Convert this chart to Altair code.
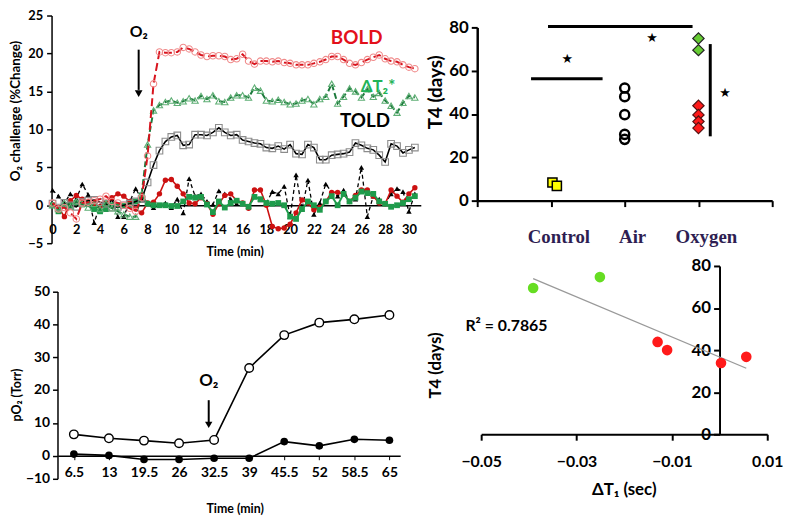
import altair as alt
import pandas as pd

W, H = 792, 510
SANS = "Lato"
SERIF = "Liberation Serif"

# ---------------- Panel A: O2 challenge time courses ----------------
time_a = [0, 0.5, 1, 1.5, 2, 2.5, 3, 3.5, 4, 4.5, 5, 5.5, 6, 6.5, 7, 7.5, 8, 8.5, 9, 9.5,
          10, 10.5, 11, 11.5, 12, 12.5, 13, 13.5, 14, 14.5, 15, 15.5, 16, 16.5, 17, 17.5,
          18, 18.5, 19, 19.5, 20, 20.5, 21, 21.5, 22, 22.5, 23, 23.5, 24, 24.5, 25, 25.5,
          26, 26.5, 27, 27.5, 28, 28.5, 29, 29.5, 30, 30.5]
bold_a = [0.3, -0.5, -0.3, -1.0, -1.8, 0.3, 0.4, 0.6, 0.8, 1.2,
          0.5, 0.3, 0.0, -0.4, -0.8, 1.0, 6.5, 16.0, 20.2, 20.1,
          20.1, 20.2, 20.8, 20.6, 20.2, 19.8, 19.6, 19.7, 19.7, 19.6,
          19.2, 19.3, 19.9, 19.0, 18.6, 19.0, 19.0, 18.9, 19.0, 18.8,
          18.7, 18.5, 18.5, 18.5, 18.7, 18.9, 19.2, 19.6, 19.6, 19.2,
          18.7, 18.5, 18.8, 19.2, 19.5, 19.8, 19.3, 19.0, 18.9, 18.5,
          18.2, 18.0]
dt2_a = [0.0, -0.5, 0.3, -0.2, 0.5, 0.2, -0.3, 0.2, -0.5, 0.3,
         -0.4, -0.8, -1.2, -1.5, -1.5, 1.5, 8.0, 12.5, 13.2, 13.6,
         13.8, 13.5, 13.7, 14.1, 13.8, 14.4, 14.0, 14.5, 13.7, 13.6,
         14.2, 14.5, 14.5, 14.2, 15.5, 15.1, 13.8, 13.7, 13.9, 13.6,
         13.3, 13.4, 13.8, 14.0, 13.3, 14.0, 14.3, 16.0, 13.4, 14.3,
         15.4, 15.0, 14.2, 15.3, 14.3, 14.8, 13.8, 13.1, 12.2, 13.5,
         14.4, 14.2]
told_a = [0.2, -0.3, 0.3, 0.0, -0.2, 0.4, 0.6, 0.7, 0.4, 0.2,
          -0.3, -0.2, 0.0, 0.2, 0.5, 0.8, 3.0, 5.3, 7.2, 8.4,
          9.0, 9.2, 7.9, 8.0, 9.3, 9.3, 9.2, 9.6, 10.2, 9.6,
          9.2, 9.3, 8.6, 8.4, 8.2, 8.1, 7.6, 7.5, 7.8, 7.4,
          8.0, 6.8, 6.7, 8.0, 7.6, 6.0, 6.0, 6.6, 6.7, 6.8,
          7.0, 8.2, 7.9, 7.5, 7.3, 6.6, 5.7, 8.1, 7.8, 6.9,
          7.3, 7.6]
ctrl_red_a = [0, -0.3, -1.5, 0.6, 1.3, 0.8, 0.5, 0.2, -0.2, 0.3,
              1.0, 1.5, 1.2, 0.5, -0.5, -1.0, 0.3, 0.4, 1.5, 3.3,
              3.4, 2.5, 1.5, 0.3, 0.2, 1.0, 0.2, -1.2, 0.2, 1.3,
              1.5, 0.6, 0.3, -0.4, 2.0, 2.0, 0.0, -2.8, -3.1, -3.0,
              -2.5, -1.0, 0.7, 0.3, -0.6, -0.3, 0.5, 1.7, 1.7, 1.5,
              0.5, 1.3, 2.0, 2.0, 1.2, 0.3, 0.2, 2.0, 1.2, 0.4,
              1.5, 2.3]
ctrl_green_a = [0, -0.8, 0, 0, 0.3, 0.1, 0.3, -0.5, -0.8, -0.5,
                0, 0, -0.1, 0, 0.5, 1.3, 0.2, 0, 0, 0,
                -0.1, -0.1, 0.5, 1.1, 1.0, 1.1, 0.1, -0.9, 0.5, -0.3,
                0.3, 0.6, 0.2, -0.2, 1.1, 0.8, 0.3, 0.2, 0.3, 0,
                -1.5, -1.8, -0.5, 0.5, 0, -0.6, 0.5, 1.2, 0, 1.5,
                0.5, 1.0, 1.8, 1.6, 1.5, 0.5, 0.2, -0.2, 0, 0.3,
                0.8, 1.2]
ctrl_black_a = [2.0, 1.2, 0.3, 1.5, 0.8, 2.8, 1.4, -2.3, 0, -0.5,
                0.8, -1.5, -1.5, 0.5, 2.2, 0.8, 0.2, -0.3, 0, 0.3,
                -0.3, 0.8, -1.0, 3.5, 1.2, 1.5, 0.5, 0.1, 1.9, 1.5,
                0.8, 0.2, 0.3, -0.2, 1.2, 0.7, 0.3, 1.8, 1.5, 2.5,
                -1.5, 4.0, -0.5, 3.3, -1.2, 0.3, 2.8, 1.7, 1.2, 2.0,
                0.5, 0.8, 5.0, -1.5, 1.2, 0.8, 0.2, 1.5, 2.2, 1.8,
                -0.8, 1.5]
labels_a = ["BOLD", "ΔT₂*", "TOLD"]
labels_a_t = [25.6, 27.4, 26.3]
labels_a_v = [22.0, 15.6, 11.1]
arrow_a = {"t": [7.25], "v1": [20.5], "v2": [15.2], "tip": [14.7], "txt_v": [22.8]}

# ---------------- Panel B: T4 by group ----------------
groups_b = ["Control", "Air", "Oxygen"]
groups_b_x = [1, 2, 3]
group_label_y = [-16.9, -16.9, -16.9]
control_x = [1.02, 1.08]
control_t4 = [8.4, 6.8]
air_t4 = [52, 48, 39.7, 30.6, 28.3]
oxy_green_t4 = [74.9, 69.5]
oxy_red_t4 = [43.8, 39.6, 36.5, 33.5]
sig_h_x1 = [0.73, 0.96]
sig_h_x2 = [1.70, 2.92]
sig_h_y = [56.3, 80.4]
sig_v_x = [3.16]
sig_v_y1 = [29.7]
sig_v_y2 = [72.3]
star_x = [1.22, 2.37, 3.36]
star_y = [65.4, 75.3, 49.5]

# ---------------- Panel C: pO2 ----------------
time_c = [6.5, 13, 19.5, 26, 32.5, 39, 45.5, 52, 58.5, 65]
po2_open = [6.5, 5.3, 4.6, 3.8, 4.8, 26.7, 36.7, 40.5, 41.5, 42.8]
po2_filled = [0.5, 0.1, -1.6, -1.6, -1.1, -1.1, 4.3, 3.0, 5.0, 4.7]
arrow_c = {"t": [31.5], "v1": [16.9], "v2": [10.0], "tip": [9.4], "txt_v": [22.6]}

# ---------------- Panel D: T4 vs dT1 ----------------
d_green_x = [-0.0391, -0.0251]
d_green_y = [69.5, 74.7]
d_red_x = [-0.013, -0.011, 0.0003, 0.0056]
d_red_y = [43.9, 40.0, 33.9, 36.8]
r2_text = "R² = 0.7865"


def sc(domain, rng):
    return alt.Scale(domain=domain, range=rng, nice=False, zero=False)


def axis(orient, offset, values, **kw):
    base = dict(orient=orient, offset=offset, values=values, grid=False,
                labelFont=SANS, labelFontWeight="bold", labelColor="black",
                titleFont=SANS, titleFontWeight="bold", titleColor="black",
                domainColor="black", tickColor="black", labelFlush=False,
                labelOverlap=False, titleAlign="center", titleBaseline="middle")
    base.update(kw)
    return alt.Axis(**base)


layers = []

# ===== Panel A =====
SAX = sc([-0.1, 31], [43.8, 417])
SAY = sc([-5, 25], [235, 5])
axA_x = axis("bottom", 196.7 - H, [0, 2, 4, 6, 8, 10, 12, 14, 16, 18, 20, 22, 24, 26, 28, 30],
             ticks=False, labelPadding=19, labelFontSize=13, domainWidth=1.5,
             title="Time (min)", titleFontSize=12.5, titleX=229, titleY=47)
axA_y = axis("left", -44, [-5, 0, 5, 10, 15, 20, 25], tickSize=5, tickWidth=1.5,
             labelPadding=4, labelFontSize=13, domainWidth=1.5,
             title="O₂ challenge (%Change)", titleFontSize=13.5, titleAngle=270,
             titleX=-36, titleY=101)


def ax_(f, axis_obj=None):
    return alt.X(f, scale=SAX, axis=axis_obj)


def ay_(f, axis_obj=None):
    return alt.Y(f, scale=SAY, axis=axis_obj)


def series_a(vals, line_color, shape, pt_color, filled, size, dash=None, first=False, sw=1.6):
    df = pd.DataFrame({"t": time_a, "v": vals})
    lk = dict(color=line_color, strokeWidth=sw)
    if dash:
        lk["strokeDash"] = dash
    line = alt.Chart(df).mark_line(**lk).encode(
        x=ax_("t:Q", axA_x if first else None), y=ay_("v:Q", axA_y if first else None))
    pts = alt.Chart(df).mark_point(shape=shape, filled=filled, color=pt_color, size=size,
                                   strokeWidth=1.1, opacity=1).encode(x=ax_("t:Q"), y=ay_("v:Q"))
    return [line, pts]


layers += series_a(ctrl_black_a, "black", "triangle-up", "black", True, 30, dash=[4, 3], first=True, sw=1.3)
layers += series_a(ctrl_red_a, "#CC1111", "circle", "#CC1111", True, 30)
layers += series_a(ctrl_green_a, "#1E9B4B", "square", "#1E9B4B", True, 34, sw=2)
layers += series_a(told_a, "black", "square", "#8C8C8C", False, 45)
layers += series_a(dt2_a, "#1D7A3C", "triangle-up", "#5FAF75", False, 40, dash=[6, 3], sw=2)
layers += series_a(bold_a, "#D8141E", "circle", "#F08A8A", False, 42, dash=[8, 4], sw=2)

lab_df = pd.DataFrame({"t": labels_a_t, "v": labels_a_v, "label": labels_a})
for lab, col, fs in zip(labels_a, ["#E3101A", "#22B357", "black"], [19, 17, 19]):
    layers.append(
        alt.Chart(lab_df[lab_df["label"] == lab]).mark_text(
            font=SANS, fontWeight="bold", fontSize=fs, color=col
        ).encode(x=ax_("t:Q"), y=ay_("v:Q"), text="label:N")
    )
arr_a = pd.DataFrame(arrow_a)
layers.append(alt.Chart(arr_a).mark_rule(color="black", strokeWidth=2).encode(
    x=ax_("t:Q"), y=ay_("v1:Q"), y2="v2:Q"))
layers.append(alt.Chart(arr_a).mark_point(shape="triangle-down", filled=True, color="black", size=60, opacity=1).encode(
    x=ax_("t:Q"), y=ay_("tip:Q")))
layers.append(alt.Chart(arr_a).mark_text(text="O₂", font=SANS, fontWeight="bold", fontSize=16, color="black").encode(
    x=ax_("t:Q"), y=ay_("txt_v:Q")))

# ===== Panel B =====
SBX = sc([0, 4], [474, 772])
SBY = sc([0, 80], [192, 17])
axB_x = axis("bottom", 192 - H, [0, 1, 2, 3, 4], tickSize=6, tickWidth=2, domainWidth=2.5,
             labels=False, title=None)
axB_y = axis("left", -474, [0, 20, 40, 60, 80], tickSize=6, tickWidth=2, domainWidth=2.5,
             labelPadding=3, labelFontSize=17, title="T4  (days)", titleFontSize=19,
             titleAngle=270, titleX=-42, titleY=82)


def bx(field, axis_obj=None):
    return alt.X(f"{field}:Q", scale=SBX, axis=axis_obj)


def by(field, axis_obj=None):
    return alt.Y(f"{field}:Q", scale=SBY, axis=axis_obj)


ctrl_df = pd.DataFrame({"x": control_x, "y": control_t4})
air_df = pd.DataFrame({"x": [2] * len(air_t4), "y": air_t4})
oxg_df = pd.DataFrame({"x": [3] * len(oxy_green_t4), "y": oxy_green_t4})
oxr_df = pd.DataFrame({"x": [3] * len(oxy_red_t4), "y": oxy_red_t4})
sigh_df = pd.DataFrame({"x1": sig_h_x1, "x2": sig_h_x2, "y": sig_h_y})
sigv_df = pd.DataFrame({"x": sig_v_x, "y1": sig_v_y1, "y2": sig_v_y2})
star_df = pd.DataFrame({"x": star_x, "y": star_y})
grp_df = pd.DataFrame({"x": groups_b_x, "y": group_label_y, "label": groups_b})

layers += [
    alt.Chart(ctrl_df).mark_point(shape="square", filled=True, fill="#FFFF00", stroke="black",
                                  strokeWidth=1.5, size=85, opacity=1).encode(x=bx("x", axB_x), y=by("y", axB_y)),
    alt.Chart(air_df).mark_point(shape="circle", filled=False, color="black", strokeWidth=2.5,
                                 size=85, opacity=1).encode(x=bx("x"), y=by("y")),
    alt.Chart(oxg_df).mark_point(shape="diamond", filled=True, fill="#66CC33", stroke="#222222",
                                 strokeWidth=1.2, size=130, opacity=1).encode(x=bx("x"), y=by("y")),
    alt.Chart(oxr_df).mark_point(shape="diamond", filled=True, fill="#FF1A1A", stroke="#551111",
                                 strokeWidth=1.2, size=130, opacity=1).encode(x=bx("x"), y=by("y")),
    alt.Chart(sigh_df).mark_rule(color="black", strokeWidth=3).encode(x=bx("x1"), x2="x2:Q", y=by("y")),
    alt.Chart(sigv_df).mark_rule(color="black", strokeWidth=3).encode(x=bx("x"), y=by("y1"), y2="y2:Q"),
    alt.Chart(star_df).mark_text(text="★", font="DejaVu Sans", fontSize=13, color="black").encode(x=bx("x"), y=by("y")),
    alt.Chart(grp_df).mark_text(font=SERIF, fontWeight="bold", fontSize=19, color="#2E1E52", dx=8).encode(
        x=bx("x"), y=by("y"), text="label:N"),
]

# ===== Panel C =====
SCX = sc([3.5, 67], [50.2, 396.2])
SCY = alt.Scale(domain=[-10, 0, 50], range=[473, 449.7, 283.7], nice=False, zero=False)
axC_x = axis("bottom", 449.7 - H, time_c, tickSize=4, labelPadding=6, labelFontSize=14,
             labelExpr="'' + datum.value", domainWidth=1.5,
             title="Time (min)", titleFontSize=12.5, titleX=229, titleY=53)
axC_y = axis("left", -50, [-10, 0, 10, 20, 30, 40, 50], tickSize=5, tickWidth=1.5,
             labelPadding=3, labelFontSize=14, domainWidth=1.5,
             title="pO₂ (Torr)", titleFontSize=12.5, titleAngle=270, titleX=-41, titleY=388)

c_df = pd.DataFrame({"t": time_c, "open": po2_open, "filled": po2_filled})
arr_c = pd.DataFrame(arrow_c)


def cx(axis_obj=None):
    return alt.X("t:Q", scale=SCX, axis=axis_obj)


def cy(f, axis_obj=None):
    return alt.Y(f, scale=SCY, axis=axis_obj)


layers += [
    alt.Chart(c_df).mark_line(color="black", strokeWidth=1.6).encode(x=cx(axC_x), y=cy("filled:Q", axC_y)),
    alt.Chart(c_df).mark_point(shape="circle", filled=True, color="black", size=60, opacity=1).encode(
        x=cx(), y=cy("filled:Q")),
    alt.Chart(c_df).mark_line(color="black", strokeWidth=1.6).encode(x=cx(), y=cy("open:Q")),
    alt.Chart(c_df).mark_point(shape="circle", filled=True, fill="white", stroke="black", strokeWidth=1.4,
                               size=75, opacity=1).encode(x=cx(), y=cy("open:Q")),
    alt.Chart(arr_c).mark_rule(color="black", strokeWidth=2).encode(x=cx(), y=cy("v1:Q"), y2="v2:Q"),
    alt.Chart(arr_c).mark_point(shape="triangle-down", filled=True, color="black", size=55, opacity=1).encode(
        x=cx(), y=cy("tip:Q")),
    alt.Chart(arr_c).mark_text(text="O₂", font=SANS, fontWeight="bold", fontSize=17, color="black").encode(
        x=cx(), y=cy("txt_v:Q")),
]

# ===== Panel D =====
SDX = sc([-0.05, 0.01], [478, 767])
SDY = sc([0, 80], [428, 258])
axD_x = axis("bottom", 428 - H, [-0.05, -0.03, -0.01, 0.01], tickSize=6, tickWidth=2,
             labelPadding=14, labelFontSize=16, labelExpr="format(datum.value, '.2f')",
             domainWidth=2, title="ΔT₁ (sec)", titleFontSize=17, titleX=622, titleY=56)
axD_y = axis("left", -718.8, [0, 20, 40, 60, 80], tickSize=6, tickWidth=2, domainWidth=2,
             labelPadding=3, labelFontSize=17, title="T4  (days)", titleFontSize=17,
             titleAngle=270, titleX=-286.8, titleY=358)

d_df = pd.DataFrame({
    "dx": d_green_x + d_red_x,
    "t4": d_green_y + d_red_y,
    "grp": ["green"] * len(d_green_x) + ["red"] * len(d_red_x),
})
r2_df = pd.DataFrame({"dx": [-0.0533], "t4": [51.3], "label": [r2_text]})


def dx_(axis_obj=None):
    return alt.X("dx:Q", scale=SDX, axis=axis_obj)


def dy_(axis_obj=None):
    return alt.Y("t4:Q", scale=SDY, axis=axis_obj)


layers += [
    alt.Chart(d_df).transform_regression("dx", "t4").mark_line(color="#999999", strokeWidth=1.3).encode(
        x=dx_(axD_x), y=dy_(axD_y)),
    alt.Chart(d_df).mark_circle(size=115, opacity=1).encode(
        x=dx_(), y=dy_(),
        color=alt.Color("grp:N", scale=alt.Scale(domain=["green", "red"], range=["#66DD22", "#FF1A1A"]), legend=None)),
    alt.Chart(r2_df).mark_text(align="left", font=SANS, fontWeight="bold", fontSize=16, color="black").encode(
        x=dx_(), y=dy_(), text="label:N"),
]

chart = alt.layer(*layers).resolve_scale(
    x="independent", y="independent", color="independent"
).properties(
    width=W, height=H, autosize=alt.AutoSizeParams(type="none"), padding=0
).configure_view(stroke=None)

chart.save("out.html", embed_options={"renderer": "svg", "actions": False})
